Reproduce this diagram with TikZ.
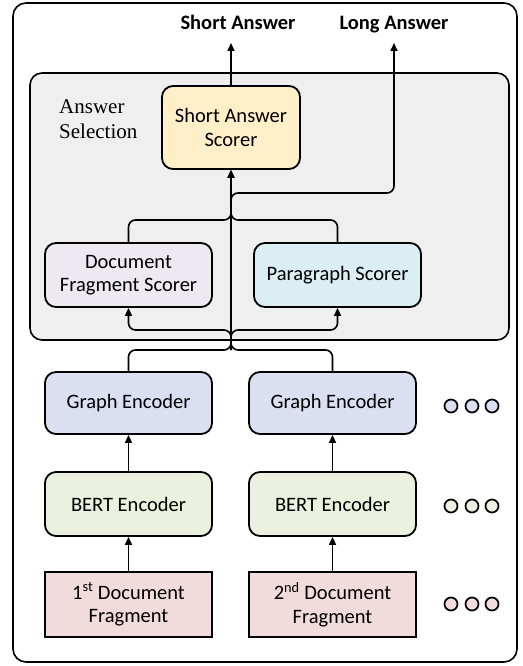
\documentclass[tikz,border=0pt]{standalone}
\usepackage{fontspec}
\setmainfont{Carlito}
\newfontfamily\serifface{Liberation Serif}
\usetikzlibrary{arrows.meta}
\definecolor{selgray}{HTML}{EFEFEF}
\definecolor{sasfill}{HTML}{FFEFC9}
\definecolor{dfsfill}{HTML}{EEE8F0}
\definecolor{psfill}{HTML}{DAEEF3}
\definecolor{gefill}{HTML}{DAE0F2}
\definecolor{bertfill}{HTML}{EBF1DE}
\definecolor{docfill}{HTML}{F2DCDB}
\tikzset{
  box/.style={draw=black, line width=1.8pt, rounded corners=11pt, align=center, font=\fontsize{20.5}{23.5}\selectfont, inner sep=0pt},
  docbox/.style={draw=black, line width=1.8pt, align=center, font=\fontsize{20.5}{23.5}\selectfont, inner sep=0pt},
  conn/.style={line width=1.6pt, rounded corners=7pt},
  arr/.style={conn, -{Triangle[length=8pt,width=7pt]}},
  dot/.style={circle, draw=black, line width=1.7pt, minimum size=13pt, inner sep=0pt},
  outlbl/.style={font=\fontsize{20.5}{23}\selectfont\bfseries, inner sep=0pt, anchor=base},
}
\begin{document}
\begin{tikzpicture}[x=1pt,y=-1pt]
\useasboundingbox (0,0) rectangle (522,666);
% outer frame
\draw[line width=1.6pt, rounded corners=13pt] (13,3) rectangle (517,662);
% answer selection panel
\draw[line width=1.6pt, rounded corners=12pt, fill=selgray] (30,73) rectangle (509,340);
\node[font=\serifface\fontsize{21}{25}\selectfont, align=left, anchor=north west, inner sep=0pt] (sel) at (59,99) {Answer\\Selection};

% nodes
\node[box, fill=sasfill, minimum width=138pt, minimum height=83pt] (sas) at (231,127.5) {Short Answer\\Scorer};
\node[box, fill=dfsfill, minimum width=167pt, minimum height=64pt] (dfs) at (128.5,275) {Document\\Fragment Scorer};
\node[box, fill=psfill, minimum width=167pt, minimum height=64pt] (ps) at (337.5,275) {Paragraph Scorer};

\node[box, fill=gefill, minimum width=167pt, minimum height=62pt] (ge1) at (128.5,403) {Graph Encoder};
\node[box, fill=gefill, minimum width=167pt, minimum height=62pt] (ge2) at (332.5,403) {Graph Encoder};
\node[box, fill=bertfill, minimum width=167pt, minimum height=64pt] (be1) at (128.5,504) {BERT Encoder};
\node[box, fill=bertfill, minimum width=167pt, minimum height=64pt] (be2) at (332.5,504) {BERT Encoder};
\node[docbox, fill=docfill, minimum width=167pt, minimum height=65pt] (df1) at (128.5,604.5) {1\textsuperscript{st} Document\\Fragment};
\node[docbox, fill=docfill, minimum width=167pt, minimum height=65pt] (df2) at (332.5,604.5) {2\textsuperscript{nd} Document\\Fragment};

% outputs
\node[outlbl] (sa) at (238,30) {Short Answer};
\node[outlbl] (la) at (394,30) {Long Answer};
\coordinate (saend) at (231,43);
\coordinate (laend) at (394,43);

% dots
\foreach \r/\c/\y in {g/gefill/406, b/bertfill/506, d/docfill/604} {
  \node[dot, fill=\c] (\r1) at (451,\y) {};
  \node[dot, fill=\c] (\r2) at (472,\y) {};
  \node[dot, fill=\c] (\r3) at (492,\y) {};
}

% connectors bottom
\draw[arr] (df1.north) -- (be1.south);
\draw[arr] (df2.north) -- (be2.south);
\draw[arr] (be1.north) -- (ge1.south);
\draw[arr] (be2.north) -- (ge2.south);

% merge into centre
\coordinate (m) at (231,350);
\draw[arr] (ge1.north) |- (m) -- (sas.south);
\draw[arr] (ge2.north) |- (m) -- (sas.south);
% to scorers
\coordinate (s) at (231,330);
\draw[arr] (m) -- (s) -| (dfs.south);
\draw[arr] (m) -- (s) -| (ps.south);
% from scorers
\coordinate (t) at (231,220);
\coordinate (t2) at (231,180);
\draw[conn] (dfs.north) |- (t) -- (t2);
\draw[conn] (ps.north) |- (t) -- (t2);
% long answer
\coordinate (l0) at (231,222);
\coordinate (l1) at (231,193);
\draw[arr] (l0) -- (l1) -| (laend);
% short answer
\draw[arr] (sas.north) -- (saend);
\end{tikzpicture}
\end{document}
